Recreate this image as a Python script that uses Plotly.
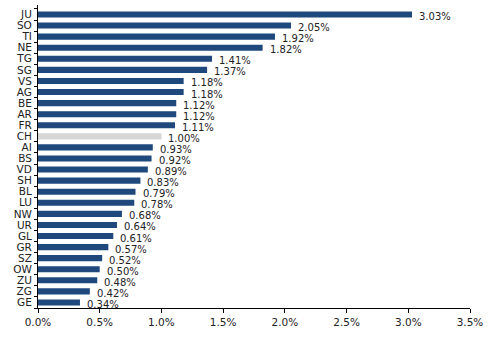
import plotly.graph_objects as go

cantons = ["JU","SO","TI","NE","TG","SG","VS","AG","BE","AR","FR","CH","AI","BS","VD","SH","BL","LU","NW","UR","GL","GR","SZ","OW","ZU","ZG","GE"]
values = [3.03,2.05,1.92,1.82,1.41,1.37,1.18,1.18,1.12,1.12,1.11,1.00,0.93,0.92,0.89,0.83,0.79,0.78,0.68,0.64,0.61,0.57,0.52,0.50,0.48,0.42,0.34]
labels = [f"{v:.2f}%" for v in values]

blue = "#1F497D"
grey = "#D6D6D6"
colors = [grey if c == "CH" else blue for c in cantons]

fig = go.Figure()
fig.add_trace(go.Bar(
    x=values, y=cantons, orientation="h",
    marker=dict(color=colors, line=dict(width=0)),
    width=0.55, hoverinfo="skip",
))
for c, v, t in zip(cantons, values, labels):
    fig.add_annotation(x=v, y=c, text=t, showarrow=False, xanchor="left",
                       xshift=5, yshift=-2,
                       font=dict(family="DejaVu Sans", size=10, color="#222222"))

fig.update_layout(
    width=491, height=340,
    margin=dict(l=38, r=21, t=5, b=32),
    plot_bgcolor="white", paper_bgcolor="white",
    showlegend=False,
    font=dict(family="DejaVu Sans", size=10, color="#222222"),
    bargap=0.45,
)
fig.update_xaxes(range=[0, 3.5], tickvals=[0,0.5,1,1.5,2,2.5,3,3.5],
                 ticktext=["0.0%","0.5%","1.0%","1.5%","2.0%","2.5%","3.0%","3.5%"],
                 showgrid=False, zeroline=False, showline=True, linecolor="black", linewidth=1,
                 ticks="outside", ticklen=4, tickcolor="black",
                 tickfont=dict(size=10.5))
fig.update_yaxes(autorange="reversed", showgrid=False, zeroline=False,
                 tickmode="array", tickvals=cantons, ticktext=cantons,
                 showline=True, linecolor="black", linewidth=1,
                 ticks="outside", ticklen=3, tickcolor="black", tickson="boundaries",
                 tickfont=dict(size=10.5), ticklabelstandoff=3)

fig.write_html("out.html")
